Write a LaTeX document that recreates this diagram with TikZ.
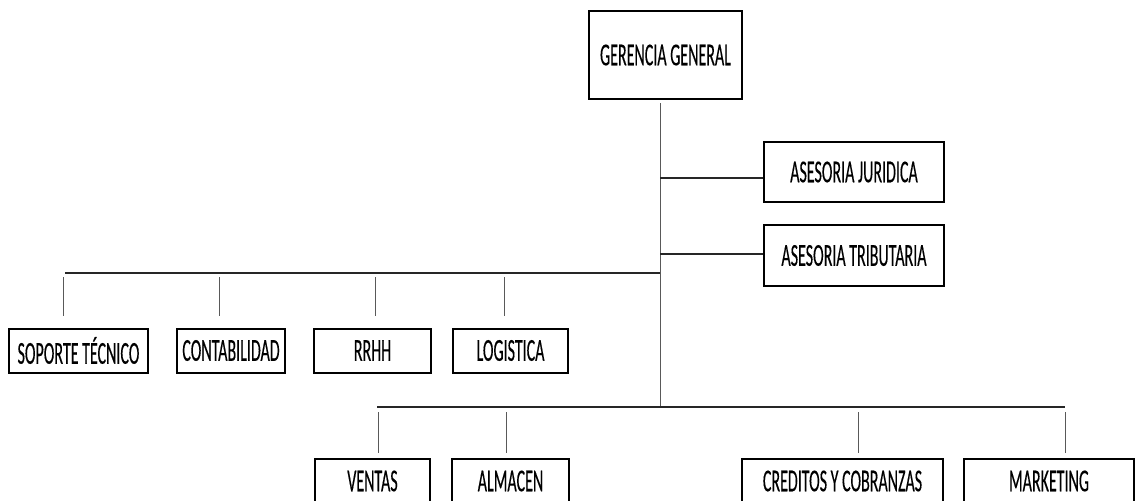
\documentclass[tikz,border=0pt]{standalone}
\usepackage{fontspec}
\setmainfont{Carlito}[FakeStretch=0.5,FakeBold=0.25]
\begin{document}
\begin{tikzpicture}[x=1pt,y=-1pt,
  box/.style={draw=black,line width=2pt,fill=white,inner sep=0pt,font=\fontsize{32}{34}\selectfont,text=black},
  hl/.style={line width=1.5pt,draw=black!85},
  vl/.style={line width=0.8pt,draw=black!65}]
\fill[white] (0,0) rectangle (1136,501);
\useasboundingbox (0,0) rectangle (1136,501);
\clip (0,0) rectangle (1136,501);
% boxes
\node[box,minimum width=153pt,minimum height=88pt] (gg) at (665.5,55) {GERENCIA GENERAL};
\node[box,minimum width=180pt,minimum height=60pt] (jur) at (854,172) {ASESORIA JURIDICA};
\node[box,minimum width=180pt,minimum height=61pt] (trib) at (854,255.5) {ASESORIA TRIBUTARIA};
\node[box,minimum width=139pt,minimum height=44pt] (sop) at (78.5,350.5) {SOPORTE TÉCNICO};
\node[box,minimum width=108pt,minimum height=44pt] (cont) at (231,350.5) {CONTABILIDAD};
\node[box,minimum width=117pt,minimum height=44pt] (rrhh) at (372.5,350.5) {RRHH};
\node[box,minimum width=115pt,minimum height=44pt] (log) at (510.5,350.5) {LOGISTICA};
\node[box,minimum width=115pt,minimum height=44pt] (ven) at (372.5,481) {VENTAS};
\node[box,minimum width=117pt,minimum height=44pt] (alm) at (510.5,481) {ALMACEN};
\node[box,minimum width=201pt,minimum height=44pt] (cred) at (842.5,481) {CREDITOS Y COBRANZAS};
\node[box,minimum width=170pt,minimum height=44pt] (mkt) at (1049,481) {MARKETING};
% coordinates
\coordinate (top) at (660,103);
\coordinate (bot) at (660,406);
\coordinate (cj) at (660,178);
\coordinate (ct) at (660,254);
\coordinate (cl) at (660,273);
\coordinate (lend) at (65,273);
\coordinate (bl) at (377,407);
\coordinate (br) at (1065,407);
% main trunk
\draw[vl] (top) -- (bot);
\draw[hl] (cj) -- (cj -| jur.west);
\draw[hl] (ct) -- (ct -| trib.west);
\draw[hl] (cl) -- (lend);
\draw[hl] (bl) -- (br);
% drops upper
\foreach \x/\n in {63/sop,219/cont,375/rrhh,504/log}{
  \coordinate (u\n) at (\x,277);
  \coordinate (d\n) at (\x,316);
  \draw[vl] (u\n) -- (d\n);
}
% drops lower
\foreach \x/\n in {378/ven,506/alm,858/cred,1065/mkt}{
  \coordinate (u\n) at (\x,412);
  \coordinate (d\n) at (\x,453);
  \draw[vl] (u\n) -- (d\n);
}
\end{tikzpicture}
\end{document}
